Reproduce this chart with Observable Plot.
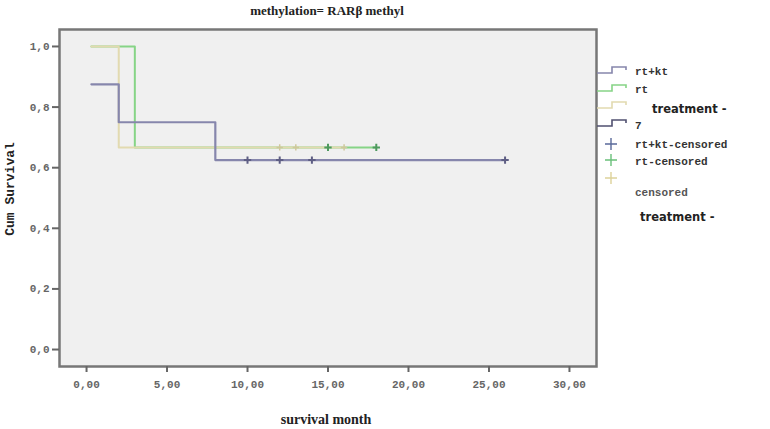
<!DOCTYPE html>
<html>
<head>
<meta charset="utf-8">
<script src="https://cdn.jsdelivr.net/npm/d3@7"></script>
<script src="https://cdn.jsdelivr.net/npm/@observablehq/plot@0.6"></script>
<style>
  html, body { margin: 0; padding: 0; background: #fff; }
  #chart { position: relative; width: 770px; height: 429px; }
</style>
</head>
<body>
<div id="chart"></div>
<script>
// ---- data ----
const title = "methylation= RARβ methyl";
const xLabel = "survival month";
const yLabel = "Cum Survival";
const xTicks = [0, 5, 10, 15, 20, 25, 30];
const yTicks = [0, 0.2, 0.4, 0.6, 0.8, 1.0];

// rt+kt
const rtktTimes = [0.3, 2, 8, 26];
const rtktSurv  = [0.875, 0.75, 0.625, 0.625];
const rtktCensTimes = [10, 12, 14, 26];
const rtktCensSurv  = [0.625, 0.625, 0.625, 0.625];
// rt
const rtTimes = [0.3, 3, 18];
const rtSurv  = [1.0, 0.667, 0.667];
const rtCensTimes = [15, 18];
const rtCensSurv  = [0.667, 0.667];
// treatment -
const noTrtTimes = [0.3, 2, 16];
const noTrtSurv  = [1.0, 0.667, 0.667];
const noTrtCensTimes = [12, 13, 16];
const noTrtCensSurv  = [0.667, 0.667, 0.667];

const legendLines = ["rt+kt", "rt", "treatment -", "7"];
const legendCens  = ["rt+kt-censored", "rt-censored", "censored", "treatment -"];

const colBlue = "#8686ac", colBlueDark = "#5e5e84";
const colGreen = "#86d486", colGreenDark = "#4e9a5e";
const colYellow = "#e2dab0", colYellowDark = "#cfc89c";
const colSeven = "#505070";

const toRows = (ts, ss) => ts.map((t, i) => ({t, s: ss[i]}));
const rtkt = toRows(rtktTimes, rtktSurv);
const rt = toRows(rtTimes, rtSurv);
const noTrt = toRows(noTrtTimes, noTrtSurv);
const rtktC = toRows(rtktCensTimes, rtktCensSurv);
const rtC = toRows(rtCensTimes, rtCensSurv);
const noTrtC = toRows(noTrtCensTimes, noTrtCensSurv);

const comma = (d, n) => d.toFixed(n).replace(".", ",");

const plot = Plot.plot({
  width: 770,
  height: 429,
  marginLeft: 59,
  marginRight: 174,
  marginTop: 29,
  marginBottom: 63,
  style: {fontFamily: "Liberation Mono", fontSize: "11px", fontWeight: "bold", color: "#666", background: "#fff"},
  x: {domain: [-1.68, 31.68], label: null},
  y: {domain: [-0.056, 1.056], label: null},
  marks: [
    Plot.frame({fill: "#f0f0f0", stroke: null}),
    Plot.line(rt, {x: "t", y: "s", curve: "step-after", stroke: colGreen, strokeWidth: 2}),
    Plot.line(noTrt, {x: "t", y: "s", curve: "step-after", stroke: colYellow, strokeWidth: 2}),
    Plot.line(rtkt, {x: "t", y: "s", curve: "step-after", stroke: colBlue, strokeWidth: 2.2}),
    Plot.dot(noTrtC, {x: "t", y: "s", symbol: "plus", r: 2.2, stroke: colYellowDark, strokeWidth: 1.5}),
    Plot.dot(rtC, {x: "t", y: "s", symbol: "plus", r: 2.5, stroke: colGreenDark, strokeWidth: 2}),
    Plot.dot(rtktC, {x: "t", y: "s", symbol: "plus", r: 2.5, stroke: colBlueDark, strokeWidth: 2}),
    Plot.frame({stroke: "#777", strokeWidth: 2.5}),
    Plot.axisX({ticks: xTicks, tickFormat: d => comma(d, 2), tickSize: 6, tickPadding: 8, label: null, stroke: "#666", strokeWidth: 2}),
    Plot.axisY({ticks: yTicks, tickFormat: d => comma(d, 1), tickSize: 7, tickPadding: 3, label: null, stroke: "#666", strokeWidth: 2})
  ]
});
document.getElementById("chart").appendChild(plot);

// ---- title, axis labels, legend (real text inside the svg) ----
const svg = d3.select(plot);
svg.append("text").attr("x", 327).attr("y", 15).attr("text-anchor", "middle")
  .attr("font-family", "Liberation Serif").attr("font-weight", "bold").attr("font-size", 13).attr("fill", "#222").text(title);
svg.append("text").attr("x", 326).attr("y", 424).attr("text-anchor", "middle")
  .attr("font-family", "Liberation Serif").attr("font-weight", "bold").attr("font-size", 14).attr("fill", "#222").text(xLabel);
svg.append("text").attr("transform", "translate(14,189) rotate(-90)").attr("text-anchor", "middle")
  .attr("font-family", "Liberation Mono").attr("font-weight", "bold").attr("font-size", 13).attr("fill", "#222").text(yLabel);

const lg = svg.append("g").attr("text-anchor", "start");
const stepIcon = (y, color) => {
  lg.append("path").attr("d", `M597,${y + 3}H612V${y - 3}H626V${y}`)
    .attr("fill", "none").attr("stroke", color).attr("stroke-width", 1.6);
};
const lgText = (x, y, t, opts = {}) => {
  lg.append("text").attr("x", x).attr("y", y).attr("text-anchor", "start")
    .attr("font-family", opts.family || "Liberation Mono").attr("font-weight", "bold")
    .attr("font-size", opts.size || 11).attr("fill", opts.fill || "#333").text(t);
};
const plusIcon = (x, y, color) => {
  lg.append("path").attr("d", `M${x - 6},${y}H${x + 6}M${x},${y - 6}V${y + 6}`)
    .attr("stroke", color).attr("stroke-width", 1.4);
};
stepIcon(70, colBlue);   lgText(635, 75, legendLines[0]);
stepIcon(88, colGreen);  lgText(635, 93, legendLines[1]);
stepIcon(105, colYellow); lgText(652, 113, legendLines[2], {family: "DejaVu Sans", size: 11.5, fill: "#222"});
stepIcon(123, colSeven); lgText(635, 129, legendLines[3]);
plusIcon(611, 144, "#5a6a9a"); lgText(635, 148, legendCens[0]);
plusIcon(611, 160, "#6ac07a"); lgText(635, 165, legendCens[1]);
plusIcon(611, 178, "#ddd29a"); lgText(635, 196, legendCens[2], {fill: "#555"});
lgText(640, 221, legendCens[3], {family: "DejaVu Sans", size: 11.5, fill: "#222"});
</script>
</body>
</html>
